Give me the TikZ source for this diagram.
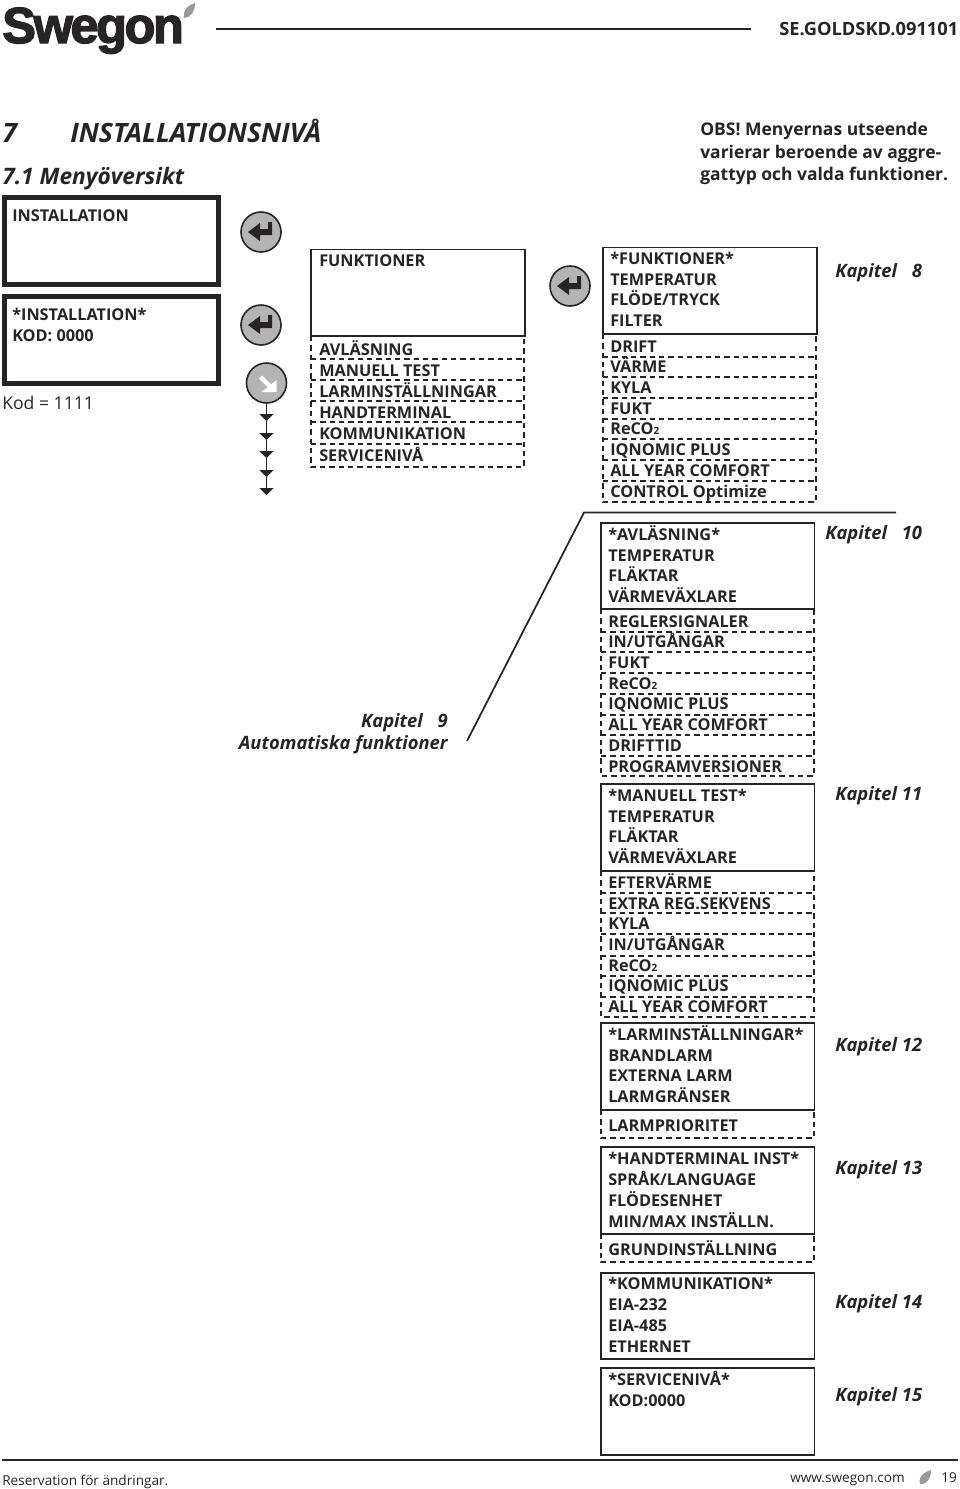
\documentclass[tikz,border=0pt]{standalone}
\usepackage{fontspec}
\usepackage{xcolor}
\usetikzlibrary{arrows.meta}
\setmainfont{Open Sans}
\newfontfamily\logofont[FakeBold=2.6,LetterSpace=-5]{Liberation Sans}
\newcommand{\menufont}{\bfseries\fontsize{12.2}{15.52}\selectfont}
\newcommand{\midfont}{\bfseries\fontsize{12.2}{15.9}\selectfont}
\newcommand{\subtwo}{{\fontsize{7.5}{8}\selectfont 2}}
\newcommand{\kapgap}{\hspace{11pt}}
\definecolor{keygray}{HTML}{B4B4B4}
\definecolor{leafgray}{HTML}{9A9A9A}
\definecolor{inkblack}{HTML}{262424}
\tikzset{
  menutxt/.style={anchor=base west,inner sep=0pt,align=left,font=\menufont,text=inkblack},
  midtxt/.style={menutxt,font=\midfont},
  kaptxt/.style={anchor=base west,inner sep=0pt,font=\bfseries\itshape\fontsize{13.8}{15}\selectfont,text=inkblack},
  thintxt/.style={anchor=base west,inner sep=0pt,font=\fontsize{13.2}{14}\selectfont,text=inkblack},
  foottxt/.style={thintxt,font=\fontsize{10.2}{13}\selectfont},
  menubox/.style={draw=inkblack,line width=1.3pt},
  lcdbox/.style={draw=inkblack,line width=3.6pt},
  rowdash/.style={draw=inkblack,line width=1.25pt,dash pattern=on 4pt off 3pt},
  keybtn/.style={circle,draw=inkblack,fill=keygray,line width=1.2pt,minimum size=30pt,inner sep=0pt},
  stepline/.style={->,line width=1.2pt,inkblack},
  pics/enterkey/.style={code={
    \fill[inkblack] (-13,0) -- (-1,-9) -- (-1,-3) -- (7,-3) -- (7,-10) -- (11,-10) -- (11,3) -- (-1,3) -- (-1,9) -- cycle;
  }},
  pics/downkey/.style={code={
    \draw[white,line width=3.4pt] (-6,-6) -- (5,5);
    \fill[white] (10,-3) -- (10,9) -- (-5,9) -- cycle;
  }}
}

\begin{document}
\begin{tikzpicture}[x=0.75pt,y=-0.75pt,>={Triangle[length=5.2pt,width=10.5pt]}]
  \useasboundingbox (0,0) rectangle (960,1489);
  \node[anchor=base west,inner sep=0pt,font=\logofont\fontsize{38}{40}\selectfont\bfseries,text=inkblack] (logo) at (2,43) {Swegon};
  \fill[leafgray] (184,18) .. controls (183,8) and (189,5) .. (195,3) .. controls (195,11) and (192,17) .. (184,18) -- cycle;
  \draw[line width=1.4pt,inkblack] (216,29) -- (751,29);
  \node[menutxt,font=\bfseries\fontsize{13.7}{15}\selectfont] (docid) at (779,35) {SE.GOLDSKD.091101};

  \node[kaptxt,font=\bfseries\itshape\fontsize{20}{22}\selectfont] (kapnr) at (2,142) {7};
  \node[kaptxt,font=\bfseries\itshape\fontsize{20}{22}\selectfont] (kaprub) at (70,142) {INSTALLATIONSNIVÅ};
  \node[kaptxt,font=\bfseries\itshape\fontsize{17}{20}\selectfont] (subrub) at (2,184) {7.1 Menyöversikt};
  \node[menutxt,font=\bfseries\fontsize{13.1}{16.8}\selectfont] (obs) at (700,180.5) {OBS! Menyernas utseende\\varierar beroende av aggre-\\gattyp och valda funktioner.};

  \draw[lcdbox] (4.5,197.5) rectangle (218.5,284.5);
  \draw[lcdbox] (4.5,296.5) rectangle (218.5,383.5);
  \node[menutxt] (inst) at (12,221) {INSTALLATION};
  \node[menutxt] (instkod) at (12,341) {*INSTALLATION*\\KOD: 0000};
  \node[thintxt] (kod) at (2,409.5) {Kod = 1111};

  \node[keybtn] (key1) at (261,232) {};
  \pic at (key1) {enterkey};
  \node[keybtn] (key2) at (261,325) {};
  \pic at (key2) {enterkey};
  \node[keybtn] (key3) at (266.5,383) {};
  \pic at (key3) {downkey};
  \node[keybtn] (key4) at (570,286) {};
  \pic at (key4) {enterkey};
  \coordinate (tip1) at (266.5,421);
  \coordinate (tip2) at (266.5,440);
  \coordinate (tip3) at (266.5,458);
  \coordinate (tip4) at (266.5,477);
  \coordinate (tip5) at (266.5,495);
  \draw[stepline] (key3) -- (tip1);
  \draw[stepline] (tip1) -- (tip2);
  \draw[stepline] (tip2) -- (tip3);
  \draw[stepline] (tip3) -- (tip4);
  \draw[stepline] (tip4) -- (tip5);

  \draw[rowdash] (311,336) -- (311,467) -- (524,467) -- (524,336);
  \draw[rowdash] (311,359) -- (524,359) (311,380) -- (524,380) (311,401) -- (524,401) (311,422) -- (524,422) (311,444) -- (524,444);
  \draw[menubox] (311,249.5) rectangle (525,336);
  \node[menutxt] (funk) at (319,266.5) {FUNKTIONER};
  \node[midtxt] (funklist) at (319,461) {AVLÄSNING\\MANUELL TEST\\LARMINSTÄLLNINGAR\\HANDTERMINAL\\KOMMUNIKATION\\SERVICENIVÅ};

  \draw[rowdash] (603,334) -- (603,502) -- (816,502) -- (816,334);
  \draw[rowdash] (603,357) -- (816,357) (603,377) -- (816,377) (603,398) -- (816,398) (603,419) -- (816,419) (603,439) -- (816,439) (603,460) -- (816,460) (603,481) -- (816,481);
  \draw[menubox] (603,247.5) rectangle (817,334);
  \node[menutxt] (fmenu) at (610,326.5) {*FUNKTIONER*\\TEMPERATUR\\FLÖDE/TRYCK\\FILTER};
  \node[menutxt] (flist) at (610,497) {DRIFT\\VÄRME\\KYLA\\FUKT\\ReCO\subtwo\\IQNOMIC PLUS\\ALL YEAR COMFORT\\CONTROL Optimize};
  \node[kaptxt] (kap8) at (835,277.5) {Kapitel\kapgap 8};

  \coordinate (bendlow) at (467,741);
  \coordinate (bendtop) at (584,512.5);
  \coordinate (bendend) at (896,512.5);
  \draw[line width=1.3pt,inkblack] (bendlow) -- (bendtop) -- (bendend);
  \node[kaptxt,anchor=base east] (kap9) at (448,727.5) {Kapitel\kapgap 9};
  \node[kaptxt,anchor=base east] (autof) at (448,749.5) {Automatiska funktioner};

  \draw[rowdash] (601,609) -- (601,776) -- (814,776) -- (814,609);
  \draw[rowdash] (601,632) -- (814,632) (601,652) -- (814,652) (601,673) -- (814,673) (601,694) -- (814,694) (601,715) -- (814,715) (601,735) -- (814,735) (601,756) -- (814,756);
  \draw[menubox] (601,523) rectangle (814.5,609);
  \node[menutxt] (avmenu) at (608,602.5) {*AVLÄSNING*\\TEMPERATUR\\FLÄKTAR\\VÄRMEVÄXLARE};
  \node[menutxt] (avlist) at (608,772) {REGLERSIGNALER\\IN/UTGÅNGAR\\FUKT\\ReCO\subtwo\\IQNOMIC PLUS\\ALL YEAR COMFORT\\DRIFTTID\\PROGRAMVERSIONER};
  \node[kaptxt] (kap10) at (825,539.5) {Kapitel\kapgap 10};

  \draw[rowdash] (601,871) -- (601,1017) -- (814,1017) -- (814,871);
  \draw[rowdash] (601,893) -- (814,893) (601,913) -- (814,913) (601,934) -- (814,934) (601,956) -- (814,956) (601,976) -- (814,976) (601,997) -- (814,997);
  \draw[menubox] (601,784) rectangle (814.5,871);
  \node[menutxt] (mtmenu) at (608,863.5) {*MANUELL TEST*\\TEMPERATUR\\FLÄKTAR\\VÄRMEVÄXLARE};
  \node[menutxt] (mtlist) at (608,1012.5) {EFTERVÄRME\\EXTRA REG.SEKVENS\\KYLA\\IN/UTGÅNGAR\\ReCO\subtwo\\IQNOMIC PLUS\\ALL YEAR COMFORT};
  \node[kaptxt] (kap11) at (835,800.5) {Kapitel 11};

  \draw[rowdash] (601,1110) -- (601,1138) -- (814,1138) -- (814,1110);
  \draw[menubox] (601,1023) rectangle (814.5,1110);
  \node[menutxt] (lamenu) at (608,1102.5) {*LARMINSTÄLLNINGAR*\\BRANDLARM\\EXTERNA LARM\\LARMGRÄNSER};
  \node[menutxt] (lalist) at (608,1131) {LARMPRIORITET};
  \node[kaptxt] (kap12) at (835,1051.5) {Kapitel 12};

  \draw[rowdash] (601,1234) -- (601,1262) -- (814,1262) -- (814,1234);
  \draw[menubox] (601,1147) rectangle (814.5,1234);
  \node[menutxt] (htmenu) at (608,1227) {*HANDTERMINAL INST*\\SPRÅK/LANGUAGE\\FLÖDESENHET\\MIN/MAX INSTÄLLN.};
  \node[menutxt] (htlist) at (608,1255) {GRUNDINSTÄLLNING};
  \node[kaptxt] (kap13) at (835,1174.5) {Kapitel 13};

  \draw[menubox] (601,1273) rectangle (814.5,1359);
  \node[menutxt] (kommenu) at (608,1352) {*KOMMUNIKATION*\\EIA-232\\EIA-485\\ETHERNET};
  \node[kaptxt] (kap14) at (835,1308.5) {Kapitel 14};

  \draw[menubox] (601,1368) rectangle (814.5,1455);
  \node[menutxt] (svmenu) at (608,1406) {*SERVICENIVÅ*\\KOD:0000};
  \node[kaptxt] (kap15) at (835,1401) {Kapitel 15};

  \draw[line width=1.4pt,inkblack] (2,1460) -- (958,1460);
  \node[foottxt] (resv) at (2,1485) {Reservation för ändringar.};
  \node[foottxt] (web) at (790,1482) {www.swegon.com};
  \fill[leafgray] (920,1484) .. controls (918,1476) and (924,1472) .. (931,1470) .. controls (931,1478) and (928,1484) .. (920,1484) -- cycle;
  \node[foottxt] (page) at (941,1482) {19};
\end{tikzpicture}
\end{document}
